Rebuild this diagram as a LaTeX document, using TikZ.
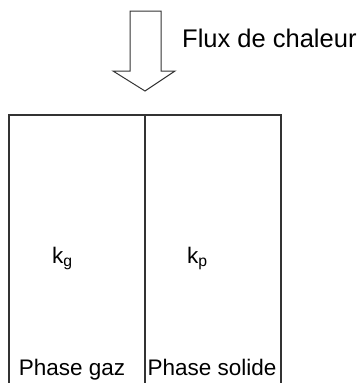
\documentclass[tikz,border=0pt]{standalone}
\usepackage{fontspec}
\setmainfont{Liberation Sans}
\usetikzlibrary{positioning}
\definecolor{ink}{HTML}{000000}
\definecolor{wall}{HTML}{333333}

\begin{document}
\begin{tikzpicture}[
  x=1pt,y=-1pt,
  label/.style={font=\fontsize{22.5}{26}\selectfont,text=ink,inner sep=0pt},
  outline/.style={draw=wall,line width=1.1pt},
  heatarrow/.style={draw=wall,line width=1pt,line join=miter}
]
\useasboundingbox (0,0) rectangle (361,383);

% heat flux arrow
\draw[heatarrow] (130,11) -- (161,11) -- (161,71) -- (175,71) -- (145,91)
  -- (113,71) -- (130,71) -- cycle;
\node[label,font=\fontsize{25.5}{29}\selectfont,anchor=base west] (flux) at (182,47) {Flux de chaleur};

% two phases
\coordinate (tl) at (9,115);
\coordinate (tm) at (145,115);
\coordinate (tr) at (281,115);
\coordinate (bl) at (9,384);
\coordinate (bm) at (145,384);
\coordinate (br) at (281,384);
\draw[outline] (bl) -- (tl) -- (tr) -- (br);
\draw[outline] (tm) -- (bm);

\node[label,anchor=base west] (kg) at (52,263) {k$_{\mathrm{g}}$};
\node[label,anchor=base west] (kp) at (187,263) {k$_{\mathrm{p}}$};
\node[label,anchor=base] (gaz) at (72,375) {Phase gaz};
\node[label,anchor=base] (solide) at (212,375) {Phase solide};
\end{tikzpicture}
\end{document}
